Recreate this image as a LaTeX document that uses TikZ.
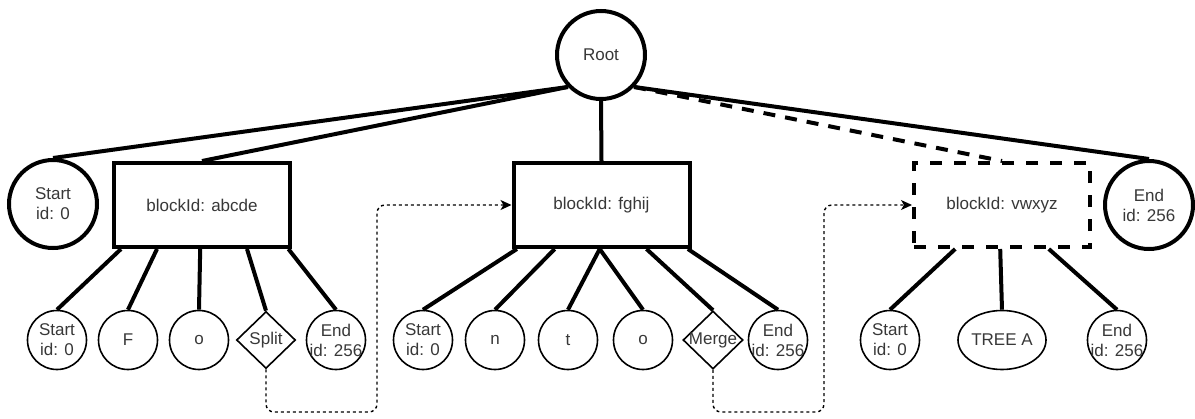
\documentclass[tikz,border=0pt]{standalone}
\usepackage{fontspec}
\setmainfont{Liberation Sans}
\usetikzlibrary{shapes.geometric,arrows.meta,calc}

\begin{document}
\begin{tikzpicture}[x=1pt,y=-1pt,
  txt/.style={text=black!78, font=\fontsize{17}{20}\selectfont, align=center},
  caption/.style={label={[txt]center:{#1}}},
  bigcirc/.style={circle, draw, line width=4pt, minimum size=88pt, inner sep=0pt, fill=white, txt},
  block/.style={rectangle, draw, line width=4pt, minimum width=176pt, minimum height=84pt, inner sep=0pt, fill=white, txt},
  dblock/.style={block, dash pattern=on 12pt off 12pt},
  leaf/.style={circle, draw, line width=1.6pt, minimum size=59pt, inner sep=0pt, fill=white},
  gate/.style={diamond, draw, line width=1.6pt, minimum width=59pt, minimum height=57pt, inner sep=0pt, fill=white},
  oval/.style={ellipse, draw, line width=1.6pt, minimum width=88pt, minimum height=59pt, inner sep=0pt, fill=white, txt},
  tree/.style={line width=4pt},
  dtree/.style={tree, dash pattern=on 12pt off 10pt},
  conn/.style={line width=1.4pt, dash pattern=on 3pt off 3pt, rounded corners=8pt,
    -{Stealth[length=11pt,width=10pt,inset=3pt]}}
]
\useasboundingbox (0,0) rectangle (1195,418);

% top level
\node[bigcirc] (root) at (601,55) {Root};
\node[bigcirc] (s0) at (53,204) {Start\\id: 0};
\node[block] (b1) at (202,205) {blockId: abcde};
\node[block] (b2) at (601.5,205) {blockId: fghij};
\node[dblock] (b3) at (1002,205) {blockId: vwxyz};
\node[bigcirc] (e0) at (1149,205) {End\\id: 256};

% children of abcde
\node[leaf, caption={Start\\id: 0}] (a1) at (57,340) {};
\node[leaf, caption={F}] (a2) at (128,340) {};
\node[leaf, caption={o}] (a3) at (199,340) {};
\node[gate, caption={Split}] (split) at (266,340) {};
\node[leaf, caption={End\\id: 256}] (a5) at (336,340) {};

% children of fghij
\node[leaf, caption={Start\\id: 0}] (c1) at (423,340) {};
\node[leaf, caption={n}] (c2) at (495,340) {};
\node[leaf, caption={t}] (c3) at (568,340) {};
\node[leaf, caption={o}] (c4) at (643,340) {};
\node[gate, minimum width=60pt, minimum height=58pt, caption={Merge}] (merge) at (713,340) {};
\node[leaf, caption={End\\id: 256}] (c6) at (778,340) {};

% children of vwxyz
\node[leaf, caption={Start\\id: 0}] (d1) at (890,340) {};
\node[oval] (d2) at (1002,340) {TREE A};
\node[leaf, caption={End\\id: 256}] (d3) at (1117,340) {};

% root edges
\draw[tree] (root.224) -- (s0.north);
\draw[tree] (root.224) -- (b1.north);
\draw[tree] (root.south) -- (b2.north);
\draw[dtree] (root.316) -- (b3.north);
\draw[tree] (root.316) -- (e0.north);

% block edges
\draw[tree] ($(b1.south west)!0.05!(b1.south east)$) -- (a1.north);
\draw[tree] ($(b1.south west)!0.25!(b1.south east)$) -- (a2.north);
\draw[tree] ($(b1.south west)!0.49!(b1.south east)$) -- (a3.north);
\draw[tree] ($(b1.south west)!0.75!(b1.south east)$) -- (split.north);
\draw[tree] ($(b1.south west)!0.98!(b1.south east)$) -- (a5.north);

\draw[tree] ($(b2.south west)!0.03!(b2.south east)$) -- (c1.north);
\draw[tree] ($(b2.south west)!0.24!(b2.south east)$) -- (c2.north);
\draw[tree] ($(b2.south west)!0.49!(b2.south east)$) -- (c3.north);
\draw[tree] ($(b2.south west)!0.49!(b2.south east)$) -- (c4.north);
\draw[tree] ($(b2.south west)!0.75!(b2.south east)$) -- (merge.north);
\draw[tree] ($(b2.south west)!0.98!(b2.south east)$) -- (c6.north);

\draw[tree] ($(b3.south west)!0.24!(b3.south east)$) -- (d1.north);
\draw[tree] ($(b3.south west)!0.49!(b3.south east)$) -- (d2.north);
\draw[tree] ($(b3.south west)!0.76!(b3.south east)$) -- (d3.north);

% dotted links between blocks
\coordinate (k1) at (377,412);
\coordinate (k2) at (824,412);
\draw[conn] (split.south) |- (k1) |- (b2.west);
\draw[conn] (merge.south) |- (k2) |- (b3.west);
\end{tikzpicture}
\end{document}
